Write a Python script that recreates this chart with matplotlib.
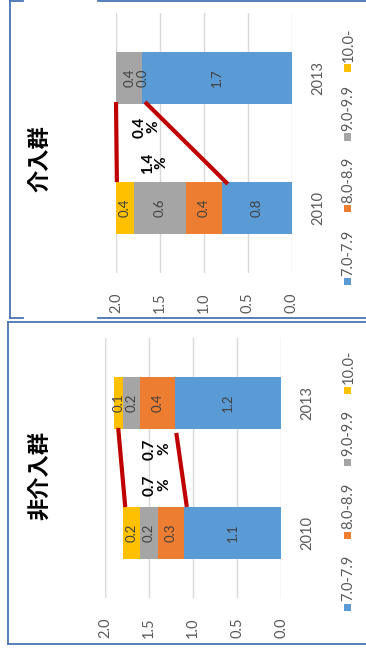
import numpy as np
import matplotlib
matplotlib.use("Agg")
import matplotlib.pyplot as plt
from matplotlib.lines import Line2D
from matplotlib.patches import Rectangle

plt.rcParams['font.family'] = ['Lato', 'Noto Sans CJK JP', 'DejaVu Sans']

# ---- data -------------------------------------------------------------
categories = ['2010', '2013']
series_labels = ['7.0-7.9', '8.0-8.9', '9.0-9.9', '10.0-']
series_colors = ['#5B9BD5', '#ED7D31', '#A5A5A5', '#FFC000']
value_ticks = [0.0, 0.5, 1.0, 1.5, 2.0]

# intervention group (介入群)
intv_7079 = [0.8, 1.7]
intv_8089 = [0.4, 0.0]
intv_9099 = [0.6, 0.4]
intv_100 = [0.4, np.nan]
intv_notes = ['0.4\n%', '1.4\n%']

# non-intervention group (非介入群)
ctrl_7079 = [1.1, 1.2]
ctrl_8089 = [0.3, 0.4]
ctrl_9099 = [0.2, 0.2]
ctrl_100 = [0.2, 0.1]
ctrl_notes = ['0.7\n%', '0.7\n%']

# ---- figure -----------------------------------------------------------
W, H = 366, 649
fig = plt.figure(figsize=(W / 100, H / 100), dpi=100)
fig.patch.set_facecolor('white')


def fx(x):
    return x / W


def fy(y):
    return 1 - y / H


TXT = '#595959'
XMAX = 2.0


def draw_panel(left, top, title, title_y, stacks, legend_ys, notes,
               note_pos, red_lines):
    ax = fig.add_axes([fx(left), fy(top + 260), 176 / W, 260 / H])
    ax.set_xlim(XMAX, 0.0)
    ax.set_ylim(-0.5, 1.5)
    ypos = np.arange(len(categories))
    base = np.zeros(len(categories))
    for vals, col in zip(stacks, series_colors):
        v = np.nan_to_num(np.asarray(vals, dtype=float))
        ax.barh(ypos, v, left=base, height=0.4, color=col, zorder=2)
        for i, raw in enumerate(vals):
            if np.isnan(raw):
                continue
            a = min(base[i], XMAX)
            b = min(base[i] + v[i], XMAX)
            ax.text((a + b) / 2, ypos[i], f'{raw:.1f}', rotation=90,
                    ha='center', va='center', fontsize=9.5,
                    color='#404040', zorder=3)
        base = base + v

    ax.set_xticks(value_ticks)
    ax.set_xticklabels([f'{t:.1f}' for t in value_ticks])
    ax.grid(axis='x', color='#D9D9D9', lw=1, zorder=0)
    ax.set_axisbelow(True)
    for s in ax.spines.values():
        s.set_visible(False)
    ax.tick_params(axis='x', length=0, pad=14, labelsize=10.5,
                   labelcolor=TXT)
    for lab in ax.get_xticklabels():
        lab.set_rotation(90)
        lab.set_ha('center')
        lab.set_va('top')

    ax.yaxis.tick_right()
    ax.set_yticks(ypos)
    ax.set_yticklabels(categories)
    ax.tick_params(axis='y', length=0, pad=14, labelsize=10.5,
                   labelcolor=TXT)
    for lab in ax.get_yticklabels():
        lab.set_rotation(90)
        lab.set_ha('left')
        lab.set_va('center')

    # change annotations between the two years
    for (xs, ys) in red_lines:
        ax.plot(xs, ys, color='#C00000', lw=3, solid_capstyle='butt',
                clip_on=False, zorder=4)
    for txt, (nx, ny) in zip(notes, note_pos):
        ax.text(nx, ny, txt, rotation=90, ha='center', va='center',
                multialignment='center', fontsize=11, fontweight='bold',
                linespacing=1.0, color='black', zorder=5)

    # title
    fig.text(fx(40), fy(title_y), title, rotation=90, ha='center',
             va='center', fontsize=16, fontweight='bold',
             family=['Noto Sans CJK JP', 'DejaVu Sans'])

    # legend (rotated, drawn by hand)
    for lab, col, ly in zip(series_labels, series_colors, legend_ys):
        fig.patches.append(Rectangle((fx(343.5), fy(ly + 3.5)), 7 / W, 7 / H,
                                     transform=fig.transFigure,
                                     facecolor=col, edgecolor='none'))
        fig.text(fx(348.5), fy(ly - 6), lab, rotation=90, ha='center',
                 va='bottom', fontsize=10.5, color=TXT)
    return ax


draw_panel(116, 13, '介入群', 159,
           [intv_7079, intv_8089, intv_9099, intv_100],
           [282, 209, 137, 68], intv_notes,
           [(1.65, 0.623), (1.56, 0.346)],
           [([2.0, 1.99], [0.815, 0.2]), ([1.67, 0.73], [0.815, 0.185])])

draw_panel(105, 338, '非介入群', 476,
           [ctrl_7079, ctrl_8089, ctrl_9099, ctrl_100],
           [607, 535, 462, 390], ctrl_notes,
           [(1.41, 0.646), (1.41, 0.369)],
           [([1.85, 1.77], [0.808, 0.2]), ([1.19, 1.07], [0.77, 0.2])])

# panel frames
FRAME = '#4A74B4'


def hline(y, x0, x1):
    fig.add_artist(Line2D([fx(x0), fx(x1)], [fy(y), fy(y)], color=FRAME,
                          lw=1.3, transform=fig.transFigure))


def vline(x, y0, y1):
    fig.add_artist(Line2D([fx(x), fx(x)], [fy(y0), fy(y1)], color=FRAME,
                          lw=1.3, transform=fig.transFigure))


vline(10, 0, 318)
hline(1, 10, 23)
hline(1, 98, 366)
hline(318, 10, 23)
hline(318, 98, 366)
hline(322, 8, 366)
vline(8, 322, 644)
hline(644, 8, 366)

fig.savefig('out.png', dpi=100, facecolor='white')
